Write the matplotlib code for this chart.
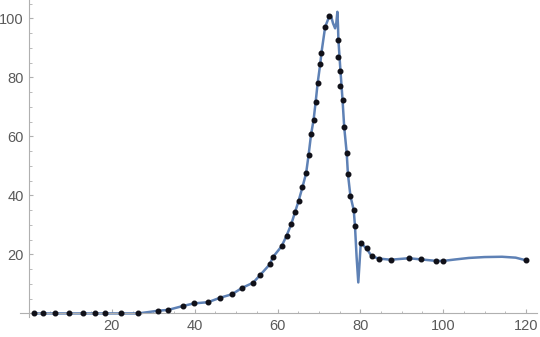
import numpy as np
import matplotlib.pyplot as plt
from matplotlib.ticker import MultipleLocator

# measured points (black dots)
x_pts = [1.1, 3.4, 6.2, 9.7, 12.9, 16.0, 18.4, 22.2, 26.4,
         31.1, 33.6, 37.1, 39.8, 43.2, 46.1, 49.0, 51.5, 54.1, 55.8,
         58.1, 58.9, 61.0, 62.2, 63.3, 64.2, 65.1, 66.0, 66.9, 67.5,
         68.1, 68.7, 69.2, 69.7, 70.3, 70.6, 71.5, 72.5,
         74.7, 74.7, 75.2, 75.2, 75.7, 76.1, 76.7, 77.0, 77.6, 78.4, 78.7,
         80.1, 81.5, 82.7, 84.4, 87.3, 91.7, 94.7, 98.3, 100.0, 120.0]
y_pts = [0, 0, 0, 0, 0, 0, 0, 0, 0,
         0.9, 1.2, 2.5, 3.4, 3.8, 5.3, 6.5, 8.7, 10.4, 13.0,
         16.6, 19.1, 22.8, 26.4, 30.2, 34.2, 38.2, 42.7, 47.5, 53.7,
         60.7, 65.5, 71.6, 78.2, 84.4, 88.3, 97.1, 100.7,
         92.6, 87.0, 82.1, 77.2, 72.3, 63.1, 54.4, 47.2, 39.8, 35.0, 29.6,
         23.9, 22.0, 19.4, 18.6, 18.2, 18.7, 18.3, 17.8, 17.8, 18.0]

# interpolating curve (includes its overshoots)
x_line = [1.1, 26.4, 31.1, 33.6, 37.1, 39.8, 43.2, 46.1, 49.0, 51.5, 54.1, 55.8,
          58.1, 58.9, 61.0, 62.2, 63.3, 64.2, 65.1, 66.0, 66.9, 67.5,
          68.1, 68.7, 69.2, 69.7, 70.3, 70.6, 71.5, 72.5, 72.9, 73.4, 73.9,
          74.2, 74.45, 74.6, 74.7, 75.2, 75.7, 76.1, 76.7, 77.0, 77.6, 78.4, 78.7,
          79.1, 79.5, 79.8, 80.1, 81.5, 82.7, 84.4, 87.3, 91.7, 94.7, 98.3,
          100.0, 103.0, 106.2, 110.0, 114.2, 117.5, 120.0]
y_line = [0, 0, 0.9, 1.2, 2.5, 3.4, 3.8, 5.3, 6.5, 8.7, 10.4, 13.0,
          16.6, 19.1, 22.8, 26.4, 30.2, 34.2, 38.2, 42.7, 47.5, 53.7,
          60.7, 65.5, 71.6, 78.2, 84.4, 88.3, 97.1, 100.7, 100.9, 98.3, 96.6,
          98.5, 102.2, 97.5, 92.6, 82.1, 72.3, 63.1, 54.4, 47.2, 39.8, 35.0, 29.6,
          19.0, 10.5, 17.0, 23.9, 22.0, 19.4, 18.6, 18.2, 18.7, 18.3, 17.8,
          17.8, 18.3, 18.8, 19.1, 19.2, 18.9, 18.0]

axis_gray = '#b0b0b0'
text_gray = '#5a5a5a'

plt.rcParams['font.family'] = ['Liberation Sans', 'DejaVu Sans']

fig = plt.figure(figsize=(5.4, 3.37), dpi=100)
ax = fig.add_axes([0.037, 0.059, 0.957, 0.941])

ax.plot(x_line, y_line, color='#5E81B5', lw=1.8, solid_joinstyle='round', zorder=2)
ax.plot(x_pts, y_pts, 'o', color='#101018', ms=3.3, zorder=3)

ax.set_xlim(-2.2, 122.6)
ax.set_ylim(-1.25, 106.2)

ax.spines['top'].set_visible(False)
ax.spines['right'].set_visible(False)
ax.spines['left'].set_position(('data', 0))
ax.spines['bottom'].set_position(('data', 0))
for s in ['left', 'bottom']:
    ax.spines[s].set_color(axis_gray)
    ax.spines[s].set_linewidth(0.8)

ax.set_xticks([20, 40, 60, 80, 100, 120])
ax.set_yticks([20, 40, 60, 80, 100])
ax.xaxis.set_minor_locator(MultipleLocator(5))
ax.yaxis.set_minor_locator(MultipleLocator(5))
ax.tick_params(which='major', direction='in', length=3, width=0.8, color=axis_gray,
               labelcolor=text_gray, labelsize=10.5)
ax.tick_params(which='minor', direction='in', length=1.8, width=0.6, color=axis_gray)
ax.tick_params(axis='x', which='major', pad=4)
ax.tick_params(axis='y', which='major', pad=4)

fig.savefig('out.png', dpi=100)
